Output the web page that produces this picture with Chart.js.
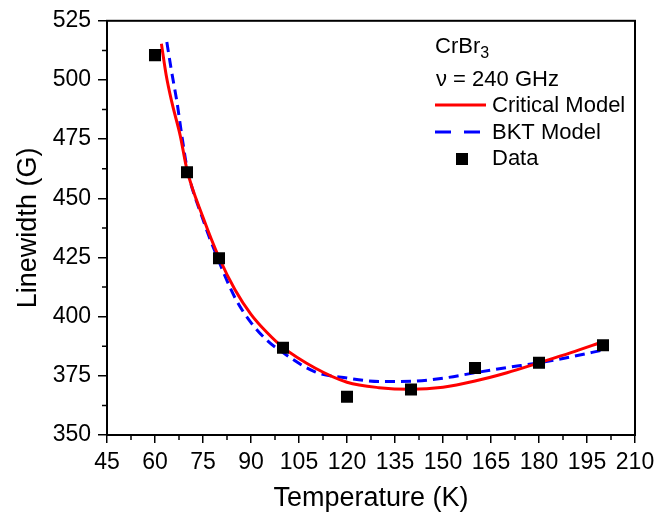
<!DOCTYPE html>
<html>
<head>
<meta charset="utf-8">
<script src="https://cdn.jsdelivr.net/npm/chart.js@4/dist/chart.umd.min.js"></script>
<style>
  html, body { margin: 0; padding: 0; background: #fff; }
  canvas { display: block; }
</style>
</head>
<body>
<canvas id="lw-chart" width="668" height="517"></canvas>
<script>
// measured points
const temps = [60, 70, 80, 100, 120, 140, 160, 180, 200];
const linewidth = [510.5, 461, 424.7, 386.9, 366.2, 369.2, 378.3, 380.5, 387.9];

// critical model fit
const critT = [62, 63.5, 65.3, 67.9, 70, 75, 80, 85, 90, 95, 100, 110, 120, 130, 140, 150, 160, 170, 180, 190, 200];
const critW = [515.3, 502, 490.4, 476.4, 462, 442, 425, 411.4, 401, 393.3, 387, 378.3, 372.3, 370, 369.3, 370.2, 372.8, 376.3, 380.5, 384.8, 389.4];

// BKT model fit (blue dashed curve)
const bktT = [63.7, 65, 66.9, 68.4, 70, 75, 80, 85, 90, 95, 100, 110, 120, 130, 140, 150, 160, 170, 180, 190, 200];
const bktW = [516, 505, 490.4, 476.4, 463, 441, 423.3, 408, 397.5, 390, 384.8, 376.7, 374.1, 372.6, 372.7, 374, 376.3, 378.5, 380.5, 383, 385.9];

const xTicks = [45, 60, 75, 90, 105, 120, 135, 150, 165, 180, 195, 210];
const yTicks = [350, 375, 400, 425, 450, 475, 500, 525];

const FONT = '"Liberation Sans", Arial, sans-serif';
const pts = (xs, ys) => xs.map((x, i) => ({ x: x, y: ys[i] }));

// frame + minor ticks
const framePlugin = {
  id: 'frame',
  afterDraw(chart) {
    const { ctx, chartArea: a, scales: { x, y } } = chart;
    ctx.save();
    ctx.strokeStyle = '#000';
    ctx.lineWidth = 2;
    ctx.strokeRect(a.left, a.top, a.right - a.left, a.bottom - a.top);
    ctx.lineWidth = 1.5;
    ctx.beginPath();
    for (let i = 0; i < xTicks.length - 1; i++) {
      const px = x.getPixelForValue((xTicks[i] + xTicks[i + 1]) / 2);
      ctx.moveTo(px, a.bottom);
      ctx.lineTo(px, a.bottom + 5);
    }
    for (let i = 0; i < yTicks.length - 1; i++) {
      const py = y.getPixelForValue((yTicks[i] + yTicks[i + 1]) / 2);
      ctx.moveTo(a.left, py);
      ctx.lineTo(a.left - 5, py);
    }
    ctx.stroke();
    ctx.restore();
  }
};

// legend box top right
const legendPlugin = {
  id: 'sampleLegend',
  afterDraw(chart) {
    const ctx = chart.ctx;
    ctx.save();
    ctx.fillStyle = '#000';
    ctx.textBaseline = 'alphabetic';
    ctx.font = '22px ' + FONT;
    ctx.fillText('CrBr', 435, 53);
    const w = ctx.measureText('CrBr').width;
    ctx.font = '16px ' + FONT;
    ctx.fillText('3', 435 + w, 58);
    ctx.font = '22px ' + FONT;
    ctx.fillText('\u03bd = 240 GHz', 436, 86);
    ctx.fillText('Critical Model', 492, 112);
    ctx.fillText('BKT Model', 492, 138.5);
    ctx.fillText('Data', 492, 165);

    ctx.lineWidth = 3;
    ctx.strokeStyle = '#ff0000';
    ctx.beginPath();
    ctx.moveTo(435, 105);
    ctx.lineTo(486, 105);
    ctx.stroke();

    ctx.strokeStyle = '#0000ff';
    ctx.setLineDash([16, 13]);
    ctx.beginPath();
    ctx.moveTo(435, 132);
    ctx.lineTo(481, 132);
    ctx.stroke();
    ctx.setLineDash([]);

    ctx.fillRect(456, 153, 12, 12);
    ctx.restore();
  }
};

new Chart(document.getElementById('lw-chart').getContext('2d'), {
  type: 'scatter',
  data: {
    datasets: [
      {
        label: 'Data',
        data: pts(temps, linewidth),
        pointStyle: 'rect',
        pointRadius: 8.5,
        pointBorderWidth: 0,
        backgroundColor: '#000',
        borderColor: '#000',
        showLine: false
      },
      {
        label: 'Critical Model',
        data: pts(critT, critW),
        showLine: true,
        borderColor: '#ff0000',
        borderWidth: 3,
        pointRadius: 0,
        cubicInterpolationMode: 'monotone'
      },
      {
        label: 'BKT Model',
        data: pts(bktT, bktW),
        showLine: true,
        borderColor: '#0000ff',
        borderWidth: 3,
        borderDash: [10, 6],
        pointRadius: 0,
        cubicInterpolationMode: 'monotone'
      }
    ]
  },
  options: {
    responsive: false,
    animation: false,
    layout: { padding: { left: 0, top: 17, right: 33, bottom: 0 } },
    plugins: { legend: { display: false }, tooltip: { enabled: false } },
    scales: {
      x: {
        type: 'linear',
        min: 45, max: 210,
        afterBuildTicks: s => { s.ticks = xTicks.map(v => ({ value: v })); },
        afterFit: s => { s.height = 82; },
        ticks: { color: '#000', font: { family: FONT, size: 23 }, padding: 6, maxRotation: 0, autoSkip: false },
        grid: { drawOnChartArea: false, drawTicks: true, tickLength: 8, color: '#000', lineWidth: 1.5 },
        border: { display: true, color: '#000', width: 2 },
        title: { display: true, text: 'Temperature (K)', color: '#000', font: { family: FONT, size: 27 }, padding: { top: 0, bottom: 2 } }
      },
      y: {
        type: 'linear',
        min: 350, max: 525,
        afterBuildTicks: s => { s.ticks = yTicks.map(v => ({ value: v })); },
        afterFit: s => { s.width = 107; },
        ticks: { color: '#000', font: { family: FONT, size: 23 }, padding: 7, autoSkip: false },
        grid: { drawOnChartArea: false, drawTicks: true, tickLength: 9, color: '#000', lineWidth: 1.5 },
        border: { display: true, color: '#000', width: 2 },
        title: { display: true, text: 'Linewidth (G)', color: '#000', font: { family: FONT, size: 27 }, padding: { top: 12, bottom: 0 } }
      }
    }
  },
  plugins: [framePlugin, legendPlugin]
});
</script>
</body>
</html>
